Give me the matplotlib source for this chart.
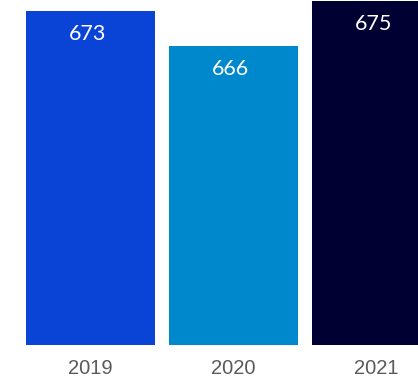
import matplotlib
matplotlib.use("Agg")
import matplotlib.pyplot as plt

years = ["2019", "2020", "2021"]
values = [673, 666, 675]
colors = ["#0A44D6", "#0088CC", "#000033"]

fig = plt.figure(figsize=(4.18, 3.81), dpi=100)
ax = fig.add_axes([0, 1 - 345 / 381, 1, 345 / 381])

x = list(range(len(years)))
bars = ax.bar(x, values, width=129 / 143, color=colors)

ax.set_xlim(-90.5 / 143, (418 - 90.5) / 143)
ax.set_ylim(606.2, 675.2)

for rect, v in zip(bars, values):
    ax.annotate(str(v), (rect.get_x() + rect.get_width() / 2, v),
                xytext=(-3, -23), textcoords="offset pixels",
                ha="center", va="center", color="white",
                fontsize=15.5, family="Lato")

ax.set_xticks(x)
ax.set_xticklabels(years, fontsize=14.5, color="#5a5a5a", family="Liberation Sans")
ax.tick_params(axis="x", length=0, pad=10)
ax.set_yticks([])
for s in ax.spines.values():
    s.set_visible(False)

fig.savefig("out.png", dpi=100)
